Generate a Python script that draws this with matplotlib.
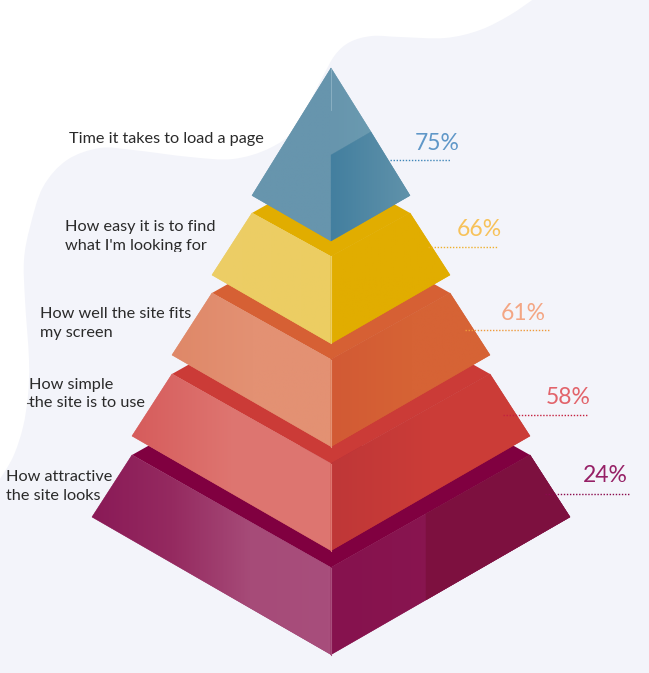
import numpy as np
import matplotlib
matplotlib.use("Agg")
from matplotlib import pyplot as plt
from matplotlib.colors import LinearSegmentedColormap, to_rgb
from matplotlib.patches import PathPatch, Polygon
from matplotlib.path import Path
from matplotlib.transforms import Bbox

W, H = 649, 673

# chart content, top tier first
labels = [
    "Time it takes to load a page",
    "How easy it is to find\nwhat I'm looking for",
    "How well the site fits\nmy screen",
    "How simple\nthe site is to use",
    "How attractive\nthe site looks",
]
values = [75, 66, 61, 58, 24]
value_colors = ["#5f97c8", "#f7c25a", "#f3a684", "#e2636a", "#962066"]
dot_colors = ["#3f86b8", "#eeb02e", "#ee9a3c", "#c4213f", "#8a0a4c"]
left_colors = [
    ["#6795ad", "#6795ad"],
    ["#ecce66", "#eccd62"],
    ["#df8868", "#e39173", "#e39173"],
    ["#d65c5c", "#de7570", "#dd7670"],
    ["#8a1a57", "#952a60", "#a64b78", "#a84e7c"],
]
right_colors = [
    ["#437f9f", "#6092aa"],
    ["#e1ad00", "#e1ad00"],
    ["#d25a34", "#d66335", "#d66335"],
    ["#bf3737", "#cb3c37", "#cb3c37"],
    ["#86124e", "#8c1a52"],
]
ledge_colors = [None, "#e1ad00", "#d66034", "#cb3b37", "#800040"]

# background blob outline
blob_top = [(535, -2), (510, 15), (480, 30), (445, 38), (400, 37), (372, 36), (350, 42),
            (335, 55), (322, 78), (295, 128), (270, 148), (233, 159), (190, 157),
            (133, 150), (100, 148), (67, 160), (43, 187), (30, 227), (24, 260),
            (25, 300), (29, 360), (28, 395), (23, 427), (13, 457), (-2, 482)]

# pyramid layout in pixels
cx = 331
apex_y = 68
tier_step = 40      # half width grows by this per tier
slant = 0.5756      # y per x of the iso edges
corner_y = [195.5, 275, 355, 436, 517]
front_h = 87
ledge_w = 16


def smooth_path(pts):
    pts = np.array(pts, float)
    verts = [pts[0]]
    codes = [Path.MOVETO]
    for i in range(len(pts) - 1):
        p0 = pts[max(i - 1, 0)]
        p1 = pts[i]
        p2 = pts[i + 1]
        p3 = pts[min(i + 2, len(pts) - 1)]
        verts += [p1 + (p2 - p0) / 6, p2 - (p3 - p1) / 6, p2]
        codes += [Path.CURVE4] * 3
    for p in [(-2, H + 2), (W + 2, H + 2), (W + 2, -2), pts[0]]:
        verts.append(p)
        codes.append(Path.LINETO)
    return Path(verts, codes)


def grad_poly(ax, pts, colors, zorder):
    # horizontal gradient clipped to a polygon
    pts = np.array(pts, float)
    mean = np.mean([to_rgb(c) for c in colors], axis=0)
    # flat polygon underneath gives the antialiased outline
    ax.add_patch(Polygon(pts, closed=True, fc=mean, ec=mean, lw=0.4, zorder=zorder))
    cmap = LinearSegmentedColormap.from_list("g", colors)
    x0, x1 = pts[:, 0].min(), pts[:, 0].max()
    y0, y1 = pts[:, 1].min(), pts[:, 1].max()
    im = ax.imshow(np.linspace(0, 1, 64).reshape(1, -1), cmap=cmap, aspect="auto",
                   extent=[x0, x1, y1, y0], zorder=zorder, interpolation="bilinear")
    poly = Polygon(pts, closed=True, transform=ax.transData, fc="none", ec="none")
    ax.add_patch(poly)
    im.set_clip_path(poly)


fig = plt.figure(figsize=(W / 100, H / 100), dpi=100)
ax = fig.add_axes([0, 0, 1, 1])
ax.set_facecolor("white")
ax.set_xlim(0, W)
ax.set_ylim(H, 0)
ax.add_patch(PathPatch(smooth_path(blob_top), fc="#f3f4fa", ec="none", zorder=0))

# tiers are drawn bottom up so each one sits on the ledge of the next
for i in reversed(range(len(values))):
    z = 10 - i
    half = 79 + tier_step * i
    yc = corner_y[i]
    bottom = yc + half * slant
    if i == 0:
        left = [(cx, apex_y), (cx - half, yc), (cx, bottom)]
        grad_poly(ax, left, left_colors[i], z)
        # right side: pale upper part, darker lower part
        knee_x = cx + 40
        knee_y = 132
        grad_poly(ax, [(cx, apex_y), (knee_x, knee_y), (cx, 155)], ["#6795ad", "#6a9ab0"], z)
        grad_poly(ax, [(cx, 155), (knee_x, knee_y), (cx + half, yc), (cx, bottom)], right_colors[i], z)
        ax.plot([cx, cx], [apex_y, 110], color="#8fb3c5", lw=0.6, zorder=z + 1)
        continue
    top_half = half - tier_step
    top_y = yc - 62
    top_c = bottom - front_h
    # ledge
    ax.add_patch(Polygon([(cx - top_half, top_y), (cx - top_half + ledge_w, top_y - 9),
                          (cx + top_half - ledge_w, top_y - 9), (cx + top_half, top_y),
                          (cx, top_c)], closed=True, fc=ledge_colors[i], ec="none", zorder=z))
    grad_poly(ax, [(cx - top_half, top_y), (cx, top_c), (cx, bottom), (cx - half, yc)], left_colors[i], z)
    grad_poly(ax, [(cx, top_c), (cx + top_half, top_y), (cx + half, yc), (cx, bottom)], right_colors[i], z)
    if i == len(values) - 1:
        # darker panel on the right of the bottom tier
        seam = 426
        t = (seam - cx) / half
        t2 = (seam - cx) / top_half
        ax.add_patch(Polygon([(seam, top_c + (top_y - top_c) * t2), (cx + top_half, top_y),
                              (cx + half, yc), (seam, bottom + (yc - bottom) * t)],
                             closed=True, fc="#7d103f", ec="#7d103f", lw=0.3, zorder=z + 0.5))
    ax.plot([cx, cx], [top_c, bottom], color=left_colors[i][-1], lw=0.8, zorder=z + 0.6)

# left labels
label_xy = [(69, 139), (65, 236.5), (40, 323.5), (29, 394), (6, 486.5)]
label_clip = [None, 252, 340, None, None]
for txt, (x, y), clip in zip(labels, label_xy, label_clip):
    t = ax.text(x, y, txt, fontsize=11.7, family="Lato", color="#2a2a2a",
                va="center", ha="left", linespacing=1.4, zorder=20)
    if clip is not None:
        # descenders on the last line are cut off in the source image
        p0 = ax.transData.transform((0, clip))
        t.set_clip_box(Bbox([[0, p0[1]], [W, H]]))
        t.set_clip_on(True)
ax.plot([27, 30], [403, 403], color="#555555", lw=0.8, zorder=20)

# value labels with dotted leaders
leader_x = [(390, 451), (428, 498), (465, 550), (503, 588), (545, 630)]
leader_y = [160, 247, 330, 415, 494]
value_xy = [(415, 143), (457, 230), (501, 313), (546, 398), (583, 476)]
for v, c, dc, (x0, x1), ly, (vx, vy) in zip(values, value_colors, dot_colors, leader_x, leader_y, value_xy):
    ax.plot([x0, x1], [ly, ly], color=dc, lw=1, ls=(0, (1, 1.2)), zorder=21)
    ax.text(vx, vy, f"{v}%", fontsize=16.5, family="Lato", color=c,
            va="center", ha="left", zorder=21)

ax.axis("off")
fig.savefig("out.png", dpi=100)
